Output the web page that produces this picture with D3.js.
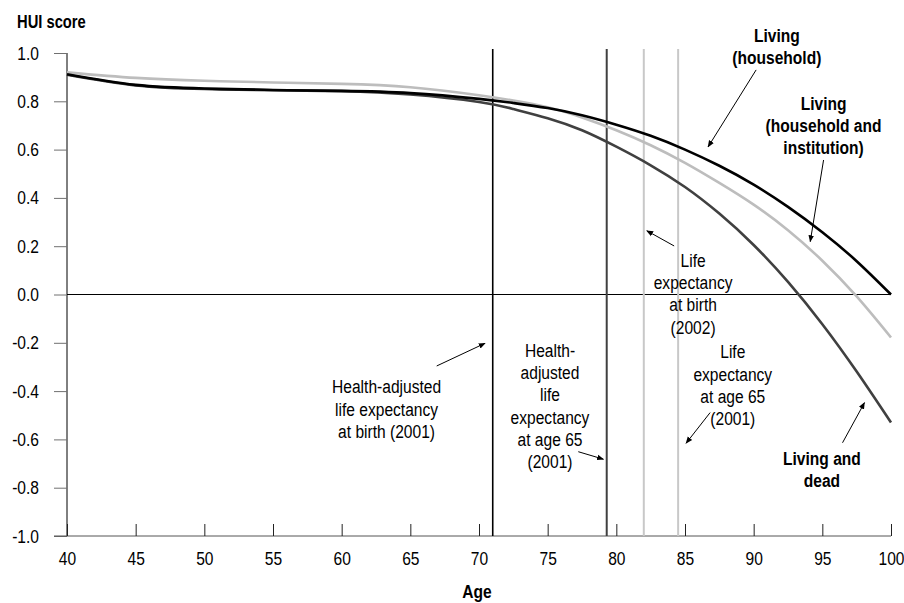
<!DOCTYPE html>
<html>
<head>
<meta charset="utf-8">
<script src="https://cdn.jsdelivr.net/npm/d3@7"></script>
<style>
    body { margin: 0; background: #fff; }
    text { font-family: "Liberation Sans", Arial, sans-serif; font-size: 19px; fill: #000; }
    .bold { font-weight: bold; }
</style>
</head>
<body>
<div id="chart"></div>
<script>
var ages = [40, 45, 50, 55, 60, 65, 70, 72.5, 75, 77.5, 80, 82.5, 85, 87.5, 90, 92.5, 95, 97.5, 100];

var household = [0.912, 0.868, 0.853, 0.847, 0.843, 0.834, 0.810, 0.793, 0.772, 0.742, 0.703, 0.657, 0.600, 0.533, 0.455, 0.363, 0.258, 0.138, 0.000];
var householdInstitution = [0.920, 0.897, 0.885, 0.878, 0.872, 0.858, 0.825, 0.803, 0.775, 0.733, 0.680, 0.618, 0.545, 0.462, 0.372, 0.266, 0.140, -0.008, -0.178];
var livingDead = [0.910, 0.866, 0.851, 0.846, 0.842, 0.828, 0.797, 0.768, 0.730, 0.680, 0.612, 0.535, 0.445, 0.335, 0.205, 0.052, -0.123, -0.319, -0.530];

// reference ages: HALE at birth, HALE at 65, LE at birth, LE at 65
var refAges = [71.0, 79.3, 82.0, 84.5];

var xTicks = [40, 45, 50, 55, 60, 65, 70, 75, 80, 85, 90, 95, 100];
var yTicks = [1.0, 0.8, 0.6, 0.4, 0.2, 0.0, -0.2, -0.4, -0.6, -0.8, -1.0];

var width = 904, height = 603;
var margin = {top: 53, right: 13, bottom: 67, left: 67};
var squeeze = 0.82; // no narrow font installed, so squeeze text horizontally

var x = d3.scaleLinear().domain([40, 100]).range([margin.left, width - margin.right]);
var y = d3.scaleLinear().domain([-1, 1]).range([height - margin.bottom, margin.top]);

var svg = d3.select("#chart").append("svg")
        .attr("width", width)
        .attr("height", height);

svg.append("defs").append("marker")
        .attr("id", "arrow")
        .attr("viewBox", "0 0 10 10")
        .attr("refX", 9)
        .attr("refY", 5)
        .attr("markerWidth", 7)
        .attr("markerHeight", 7)
        .attr("markerUnits", "userSpaceOnUse")
        .attr("orient", "auto")
        .append("path")
        .attr("d", "M0,1 L10,5 L0,9 Z")
        .attr("fill", "#000");

// axes
var yAxis = d3.axisLeft(y)
        .tickValues(yTicks)
        .tickSize(13)
        .tickPadding(15)
        .tickFormat(function(d) { return d.toFixed(1); });

var gy = svg.append("g")
        .attr("transform", "translate(" + margin.left + ",0)")
        .call(yAxis);
gy.select(".domain").attr("stroke", "#000").attr("d", "M0," + y(-1) + "V" + y(1));
gy.selectAll(".tick line").attr("stroke", "#707070");
gy.selectAll(".tick text")
        .attr("font-size", 19).attr("font-family", null).style("fill", "#000")
        .attr("x", -28 / squeeze)
        .attr("transform", "scale(" + squeeze + ",1)");

var xAxis = d3.axisBottom(x)
        .tickValues(xTicks)
        .tickSize(-12)
        .tickPadding(16);

var gx = svg.append("g")
        .attr("transform", "translate(0," + y(-1) + ")")
        .call(xAxis);
gx.select(".domain").attr("stroke", "#555").attr("d", "M" + (margin.left - 13) + ",0H" + x(100));
gx.selectAll(".tick line").attr("stroke", "#222");
gx.selectAll(".tick text")
        .attr("font-size", 19).attr("font-family", null).style("fill", "#000")
        .attr("transform", "scale(" + squeeze + ",1)");

// zero line
svg.append("line")
        .attr("x1", x(40)).attr("x2", x(100))
        .attr("y1", y(0)).attr("y2", y(0))
        .attr("stroke", "#000")
        .attr("stroke-width", 1.2);

// reference verticals
var refColors = ["#000", "#404040", "#c8c8c8", "#c8c8c8"];
var refWidths = [1.6, 2, 2, 2];
svg.selectAll("line.ref")
        .data(refAges)
        .enter().append("line")
        .attr("class", "ref")
        .attr("x1", function(d) { return x(d); })
        .attr("x2", function(d) { return x(d); })
        .attr("y1", y(-1))
        .attr("y2", y(1) - 4)
        .attr("stroke", function(d, i) { return refColors[i]; })
        .attr("stroke-width", function(d, i) { return refWidths[i]; });

// curves
var line = d3.line()
        .x(function(d) { return x(d[0]); })
        .y(function(d) { return y(d[1]); })
        .curve(d3.curveNatural);

var series = [
    {values: livingDead, color: "#404040"},
    {values: householdInstitution, color: "#bdbdbd"},
    {values: household, color: "#000"}
];

svg.selectAll("path.series")
        .data(series)
        .enter().append("path")
        .attr("class", "series")
        .attr("fill", "none")
        .attr("stroke", function(d) { return d.color; })
        .attr("stroke-width", 2.6)
        .attr("d", function(d) { return line(ages.map(function(a, i) { return [a, d.values[i]]; })); });

var lineGap = 22.3;

// squeezed text placed at pixel (px, py)
function label(px, py, lines, bold, anchor) {
    var t = svg.append("text")
            .attr("class", bold ? "bold" : null)
            .attr("text-anchor", anchor)
            .attr("transform", "scale(" + squeeze + ",1)")
            .attr("x", px / squeeze)
            .attr("y", py);
    lines.forEach(function(s, i) {
        t.append("tspan")
                .attr("x", px / squeeze)
                .attr("dy", i === 0 ? "0.35em" : lineGap)
                .text(s);
    });
    return t;
}

label(17, 22, ["HUI score"], true, "start").style("font-size", "18px");
label((x(40) + x(100)) / 2 - 2, 591, ["Age"], true, "middle");

// annotations: label centre (age, score) of first line, arrow from -> to
var notes = [
    {lines: ["Living", "(household)"], bold: true, at: [91.69, 1.075], from: [90.18, 0.930], to: [86.68, 0.611]},
    {lines: ["Living", "(household and", "institution)"], bold: true, at: [95.09, 0.793], from: [95.09, 0.557], to: [94.12, 0.219]},
    {lines: ["Life", "expectancy", "at birth", "(2002)"], bold: false, at: [85.59, 0.143], from: [84.21, 0.201], to: [82.22, 0.264]},
    {lines: ["Life", "expectancy", "at age 65", "(2001)"], bold: false, at: [88.48, -0.237], from: [86.83, -0.489], to: [85.08, -0.616]},
    {lines: ["Living and", "dead"], bold: true, at: [94.97, -0.678], from: [96.47, -0.614], to: [98.07, -0.448]},
    {lines: ["Health-adjusted", "life expectancy", "at birth (2001)"], bold: false, at: [63.27, -0.382], from: [66.92, -0.296], to: [70.44, -0.202]},
    {lines: ["Health-", "adjusted", "life", "expectancy", "at age 65", "(2001)"], bold: false, at: [75.17, -0.230], from: [77.23, -0.651], to: [79.06, -0.682]}
];

notes.forEach(function(n) {
    label(x(n.at[0]), y(n.at[1]), n.lines, n.bold, "middle");

    svg.append("line")
            .attr("x1", x(n.from[0])).attr("y1", y(n.from[1]))
            .attr("x2", x(n.to[0])).attr("y2", y(n.to[1]))
            .attr("stroke", "#000")
            .attr("stroke-width", 1)
            .attr("marker-end", "url(#arrow)");
});
</script>
</body>
</html>
